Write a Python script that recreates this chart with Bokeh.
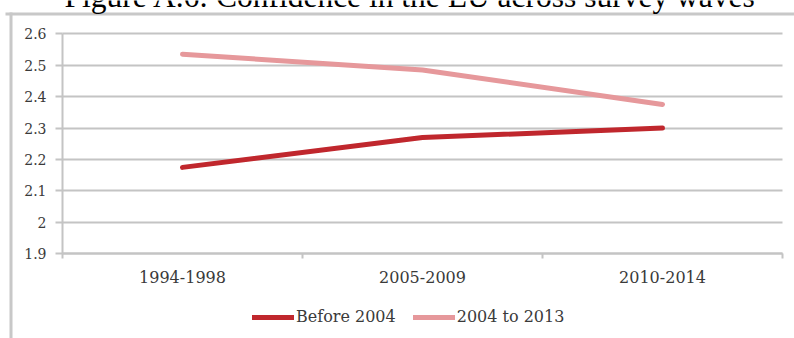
from bokeh.plotting import figure
from bokeh.models import FixedTicker, Legend, LegendItem, Label, BoxAnnotation, Range1d
from bokeh.embed import file_html
from bokeh.resources import INLINE

# Survey waves and mean confidence in the EU by cohort
waves = ["1994-1998", "2005-2009", "2010-2014"]
before_2004 = [2.175, 2.27, 2.30]
from_2004_to_2013 = [2.535, 2.485, 2.375]
series_names = ["Before 2004", "2004 to 2013"]

y_ticks = [1.9, 2.0, 2.1, 2.2, 2.3, 2.4, 2.5, 2.6]
y_tick_labels = ["1.9", "2", "2.1", "2.2", "2.3", "2.4", "2.5", "2.6"]

title_text = "Figure A.6: Confidence in the EU across survey waves"

DARK_RED = "#c0272d"
LIGHT_RED = "#e6989b"
GRID = "#c4c4c4"
BORDER = "#c8c8c8"
TEXT = "#3a3a3a"
FONT = "DejaVu Serif"

W, H = 794, 338
# plot area in canvas pixels: x 62..782, y 33..253 (top-down)
PX_L, PX_R, PY_T, PY_B = 62, 782, 33.3, 253.3
n = len(waves)
y_lo, y_hi = y_ticks[0], y_ticks[-1]
x_per_px = n / (PX_R - PX_L)
y_per_px = (y_hi - y_lo) / (PY_B - PY_T)

p = figure(width=W, height=H, output_backend="svg", toolbar_location=None,
           title=None, min_border=0,
           x_range=Range1d(-PX_L * x_per_px, n + (W - PX_R) * x_per_px),
           y_range=Range1d(y_lo - (H - PY_B) * y_per_px, y_hi + PY_T * y_per_px))
p.outline_line_color = None
p.background_fill_color = "white"
p.border_fill_color = "white"

# category centres; boundaries carry the tick marks
xs = [i + 0.5 for i in range(n)]
bounds = list(range(n + 1))

xa = p.xaxis[0]
xa.fixed_location = y_lo
xa.bounds = (0, n)
xa.ticker = FixedTicker(ticks=xs, minor_ticks=bounds)
xa.major_label_overrides = {x: w for x, w in zip(xs, waves)}
xa.major_tick_line_color = None
xa.major_tick_in = 0
xa.major_tick_out = 0
xa.minor_tick_in = 0
xa.minor_tick_out = 5
xa.minor_tick_line_color = GRID
xa.minor_tick_line_width = 2
xa.axis_line_color = GRID
xa.axis_line_width = 2
xa.major_label_standoff = 12
xa.major_label_text_font = FONT
xa.major_label_text_font_size = "16px"
xa.major_label_text_color = TEXT

ya = p.yaxis[0]
ya.fixed_location = 0
ya.bounds = (y_lo, y_hi)
ya.ticker = FixedTicker(ticks=y_ticks, minor_ticks=[])
ya.major_label_overrides = {t: s for t, s in zip(y_ticks, y_tick_labels)}
ya.major_tick_in = 0
ya.major_tick_out = 7
ya.major_tick_line_color = GRID
ya.major_tick_line_width = 2
ya.minor_tick_line_color = None
ya.axis_line_color = GRID
ya.axis_line_width = 2
ya.major_label_standoff = 9
ya.major_label_text_font = FONT
ya.major_label_text_font_size = "14px"
ya.major_label_text_color = TEXT

# horizontal gridlines across the plot area only
p.xgrid.grid_line_color = None
p.ygrid.ticker = FixedTicker(ticks=y_ticks, minor_ticks=[])
p.ygrid.grid_line_color = GRID
p.ygrid.grid_line_width = 2
if "cross_bounds" in p.ygrid[0].properties():
    p.ygrid.cross_bounds = (0, n)
else:
    p.ygrid.grid_line_color = None
    p.segment(x0=[0] * len(y_ticks), x1=[n] * len(y_ticks), y0=y_ticks, y1=y_ticks,
              line_color=GRID, line_width=2)

r1 = p.line(xs, before_2004, line_color=DARK_RED, line_width=5, line_cap="round")
r2 = p.line(xs, from_2004_to_2013, line_color=LIGHT_RED, line_width=5, line_cap="round")

legend = Legend(items=[LegendItem(label=series_names[0], renderers=[r1]),
                       LegendItem(label=series_names[1], renderers=[r2])],
                orientation="horizontal", location=(252, 12),
                glyph_width=42, glyph_height=16, label_standoff=2, spacing=17,
                padding=0, margin=0,
                background_fill_alpha=0, border_line_color=None,
                label_text_font=FONT, label_text_font_size="16px",
                label_text_color=TEXT)
p.add_layout(legend, "center")

# frame lines around the figure panel
p.add_layout(BoxAnnotation(left=9, right=12, bottom=0, top=H - 12,
                           left_units="screen", right_units="screen",
                           bottom_units="screen", top_units="screen",
                           fill_color=BORDER, fill_alpha=1, line_color=None))
p.add_layout(BoxAnnotation(left=5, right=W, bottom=H - 15, top=H - 12,
                           left_units="screen", right_units="screen",
                           bottom_units="screen", top_units="screen",
                           fill_color=BORDER, fill_alpha=1, line_color=None))

# caption sits above the canvas; only its lower part shows
p.add_layout(Label(x=410, y=H + 4.5, x_units="screen", y_units="screen",
                   text=title_text, text_align="center", text_baseline="alphabetic",
                   text_font="Liberation Serif", text_font_size="31.5px",
                   text_color="black"))

open("out.html", "w").write(file_html(p, INLINE))
